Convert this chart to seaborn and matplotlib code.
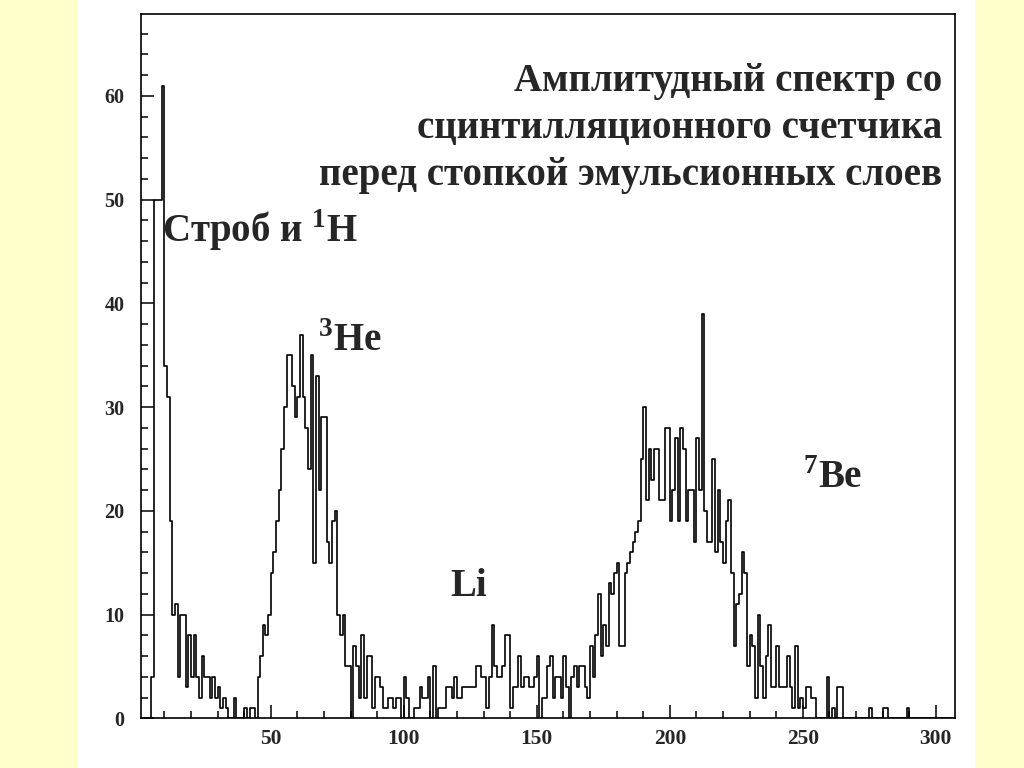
import numpy as np
import pandas as pd
import matplotlib
matplotlib.use("Agg")
import matplotlib.pyplot as plt
from matplotlib.patches import Rectangle
from matplotlib.ticker import MultipleLocator
import seaborn as sns

# counts per amplitude channel (bin width 1), first channel = 1
first_channel = 1
counts_strobe = [0, 0, 0, 0, 4, 50, 50, 50, 61, 34,
                 31, 19, 10, 11, 4, 10, 10, 3, 8, 4,
                 8, 4, 2, 6, 4, 4, 2, 4, 2, 3,
                 1, 2, 1, 0, 0, 2, 0, 0, 0, 1,
                 0, 1, 1, 0]                                  # 1-44
counts_he3 = [4, 6, 9, 8, 10, 14, 16, 19, 22, 26,
              30, 35, 35, 32, 29, 31, 37, 31, 28, 24,
              35, 15, 33, 22, 29, 29, 17, 15, 19, 20,
              10, 8, 10, 5, 5, 0, 7, 5, 2, 8,
              2]                                              # 45-85
counts_li = [6, 6, 1, 4, 4, 3, 1, 1, 2, 2,
             1, 2, 2, 0, 4, 2, 0, 0, 1, 1,
             3, 2, 2, 4, 0, 5, 0, 1, 1, 1,
             3, 3, 2, 4, 2, 2, 3, 3, 3, 3,
             3, 5, 5, 4, 4, 1, 4, 9, 5, 4,
             4, 5, 8, 8, 1, 3, 3, 6, 3, 4,
             4, 3, 3, 4, 6, 0, 2, 2, 5, 6,
             2, 4, 4, 2, 6]                                   # 86-160
counts_be7 = [3, 0, 4, 5, 3, 5, 5, 3, 2, 7,
              4, 8, 12, 6, 9, 7, 13, 12, 14, 15,
              7, 7, 14, 15, 16, 17, 18, 19, 25, 30,
              21, 26, 23, 26, 26, 21, 21, 28, 28, 19,
              22, 27, 19, 28, 26, 19, 22, 22, 17, 27,
              22, 39, 20, 17, 17, 25, 16, 22, 17, 15,
              19, 21, 14, 7, 11, 12, 16, 14, 5, 8,
              7, 2, 10, 5, 2, 6, 9, 3, 3, 7,
              3, 3, 3, 6, 3, 1, 7, 1, 2, 1]                   # 161-250
counts_tail = [3, 3, 2, 2, 0, 0, 0, 0, 4, 0,
               1, 0, 3, 3, 0, 0, 0, 0, 0, 0,
               0, 0, 0, 0, 1, 0, 0, 0, 0, 1,
               1, 0, 0, 0, 0, 0, 0, 0, 1, 0,
               0, 0, 0, 0, 0, 0, 0, 0, 0, 0,
               0, 0, 0, 0, 0, 0, 0]                           # 251-307

title_lines = ["Амплитудный спектр со",
               "сцинтилляционного счетчика",
               "перед стопкой эмульсионных слоев"]
peak_labels = [r"Строб и $^{\mathbf{1}}$H", r"$^{\mathbf{3}}$He", "Li", r"$^{\mathbf{7}}$Be"]
x_ticks = [50, 100, 150, 200, 250, 300]
y_ticks = [0, 10, 20, 30, 40, 50, 60]

counts = counts_strobe + counts_he3 + counts_li + counts_be7 + counts_tail
channels = np.arange(first_channel, first_channel + len(counts)) + 0.5
df = pd.DataFrame({"channel": channels, "count": counts})

sns.set_style("ticks")
plt.rcParams["font.family"] = ["Liberation Serif", "DejaVu Serif"]
plt.rcParams["font.weight"] = "bold"
plt.rcParams["mathtext.fontset"] = "custom"
plt.rcParams["mathtext.rm"] = "Liberation Serif:bold"
plt.rcParams["mathtext.bf"] = "Liberation Serif:bold"

fig = plt.figure(figsize=(10.24, 7.68), dpi=100)
fig.patch.set_facecolor("#FFFFCC")
fig.add_artist(Rectangle((78 / 1024, 0), 897 / 1024, 1, transform=fig.transFigure,
                         facecolor="white", edgecolor="none", zorder=0))
ax = fig.add_axes([141 / 1024, 1 - 718.3 / 768, 814 / 1024, 704.3 / 768])
ax.set_facecolor("white")

sns.histplot(data=df, x="channel", weights="count", binwidth=1,
             binrange=(first_channel, first_channel + len(counts)), element="step",
             fill=False, color="black", linewidth=1.2, ax=ax)

ax.set_xlim(1.2, 307.2)
ax.set_ylim(0, 67.9)
ax.set_xlabel("")
ax.set_ylabel("")
ax.set_xticks(x_ticks)
ax.set_yticks(y_ticks)
ax.xaxis.set_minor_locator(MultipleLocator(10))
ax.yaxis.set_minor_locator(MultipleLocator(2))
ax.tick_params(which="both", direction="in", top=False, right=False, width=1.1, color="black")
ax.tick_params(which="major", length=9.4)
ax.tick_params(which="minor", length=4.8)
ax.tick_params(axis="x", labelsize=15.5, pad=8)
ax.tick_params(axis="y", labelsize=14.5, pad=12)
for lbl in ax.get_xticklabels() + ax.get_yticklabels():
    lbl.set_fontweight("bold")
for sp in ax.spines.values():
    sp.set_linewidth(1.2)
    sp.set_color("black")

# title, right aligned, one baseline per line
for i, line in enumerate(title_lines):
    fig.text(942 / 1024, 1 - (91 + 47 * i) / 768, line, ha="right", va="baseline",
             fontsize=28, fontweight="bold")

# peak names
label_pos = [(162, 242), (318, 351), (450, 596), (803, 488)]
for txt, (px, py) in zip(peak_labels, label_pos):
    fig.text(px / 1024, 1 - py / 768, txt, ha="left", va="baseline",
             fontsize=28, fontweight="bold")

fig.savefig("out.png", dpi=100, facecolor=fig.get_facecolor())
